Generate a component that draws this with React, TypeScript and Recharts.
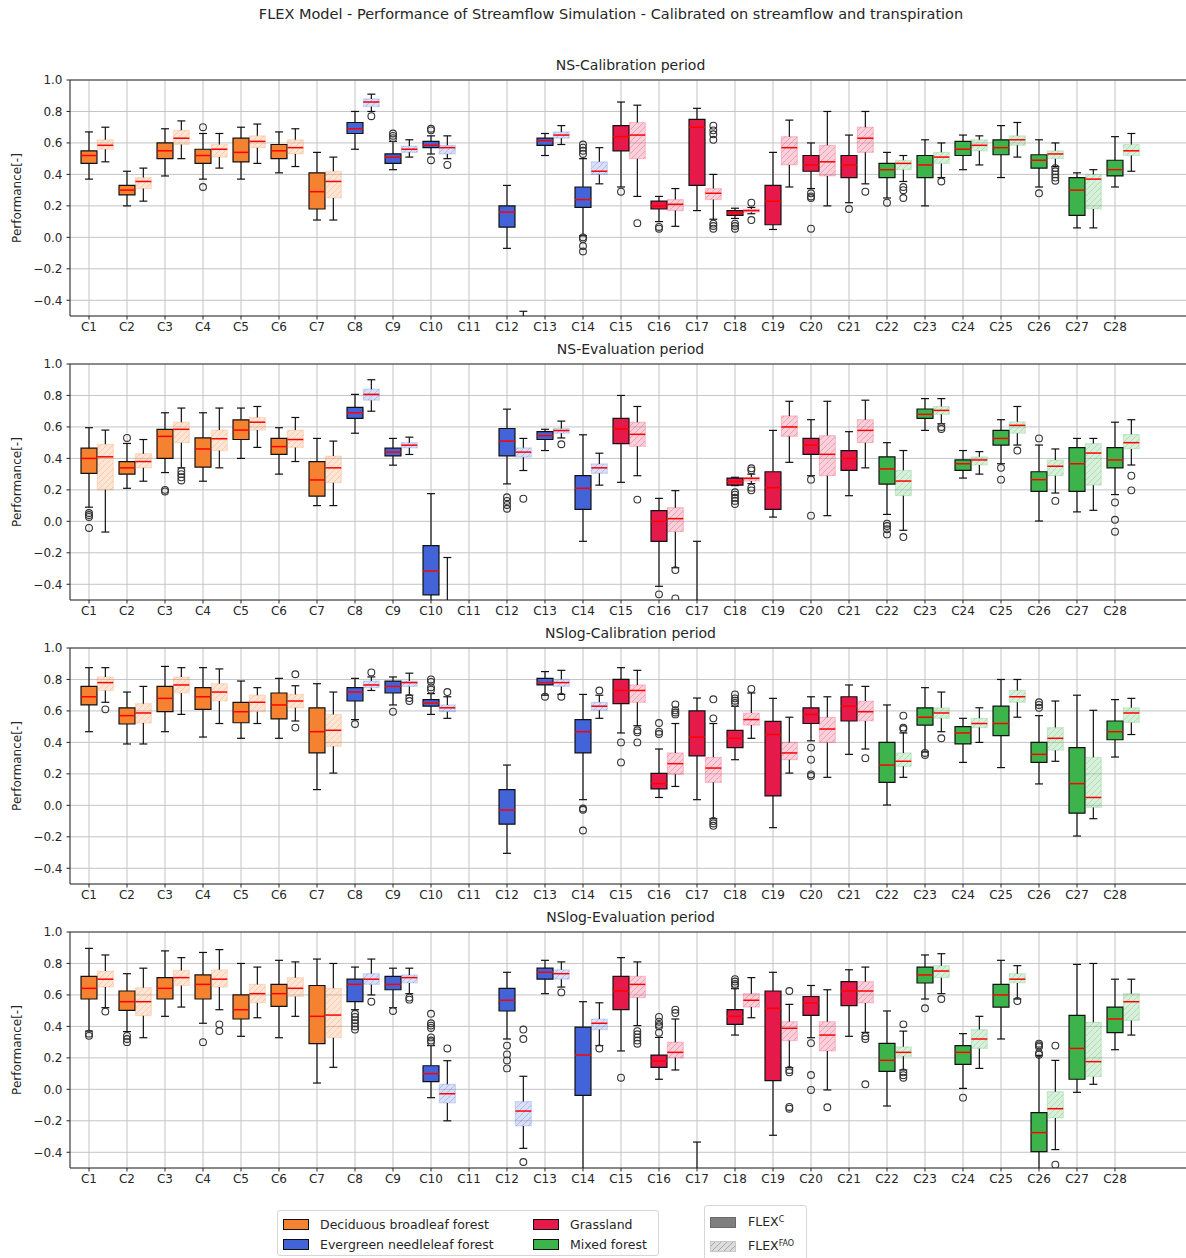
import React from 'react';
import { ComposedChart, XAxis, YAxis, CartesianGrid, Scatter, ReferenceArea, ReferenceLine } from 'recharts';

type Box = [number, number, number, number, number] | null; // whisker low, q1, median, q3, whisker high
type Flier = [number, number]; // category number, value

const categories = ['C1', 'C2', 'C3', 'C4', 'C5', 'C6', 'C7', 'C8', 'C9', 'C10', 'C11', 'C12', 'C13', 'C14',
  'C15', 'C16', 'C17', 'C18', 'C19', 'C20', 'C21', 'C22', 'C23', 'C24', 'C25', 'C26', 'C27', 'C28'];

// 0 deciduous broadleaf, 1 evergreen needleleaf, 2 grassland, 3 mixed forest
const coverOfCategory = [0, 0, 0, 0, 0, 0, 0, 1, 1, 1, 1, 1, 1, 1, 2, 2, 2, 2, 2, 2, 2, 3, 3, 3, 3, 3, 3, 3];
const coverNames = ['Deciduous broadleaf forest', 'Evergreen needleleaf forest', 'Grassland', 'Mixed forest'];
const coverColors = ['#f58231', '#4363d8', '#e6194b', '#3cb44b'];

const yTicks = [-0.4, -0.2, 0, 0.2, 0.4, 0.6, 0.8, 1.0];

// ---- NS, calibration period
const nsCalC: Box[] = [
  [0.37, 0.47, 0.52, 0.55, 0.67], [0.20, 0.27, 0.30, 0.33, 0.42], [0.39, 0.50, 0.55, 0.60, 0.69],
  [0.37, 0.47, 0.52, 0.56, 0.66], [0.37, 0.48, 0.54, 0.63, 0.70], [0.41, 0.50, 0.55, 0.59, 0.67],
  [0.11, 0.18, 0.29, 0.41, 0.54], [0.56, 0.66, 0.69, 0.73, 0.80], [0.43, 0.47, 0.51, 0.53, 0.61],
  [0.53, 0.57, 0.585, 0.61, 0.645], null, [-0.07, 0.065, 0.16, 0.20, 0.33],
  [0.52, 0.585, 0.615, 0.63, 0.66], [0.01, 0.19, 0.24, 0.32, 0.50], [0.32, 0.55, 0.64, 0.71, 0.86],
  [0.10, 0.18, 0.20, 0.23, 0.26], [0.17, 0.33, 0.70, 0.75, 0.82], [0.12, 0.14, 0.155, 0.17, 0.185],
  [0.05, 0.08, 0.23, 0.33, 0.54], [0.31, 0.42, 0.46, 0.52, 0.60], [0.22, 0.38, 0.46, 0.52, 0.65],
  [0.25, 0.38, 0.43, 0.47, 0.54], [0.20, 0.38, 0.46, 0.52, 0.62], [0.43, 0.52, 0.56, 0.61, 0.65],
  [0.38, 0.525, 0.57, 0.62, 0.71], [0.32, 0.44, 0.49, 0.525, 0.62], [0.06, 0.14, 0.30, 0.38, 0.41],
  [0.32, 0.39, 0.43, 0.49, 0.64],
];
const nsCalFao: Box[] = [
  [0.48, 0.56, 0.585, 0.62, 0.70], [0.23, 0.31, 0.355, 0.38, 0.44], [0.50, 0.59, 0.63, 0.68, 0.74],
  [0.44, 0.51, 0.56, 0.59, 0.66], [0.47, 0.57, 0.61, 0.645, 0.72], [0.45, 0.53, 0.57, 0.62, 0.69],
  [0.11, 0.25, 0.355, 0.42, 0.51], [0.80, 0.83, 0.86, 0.88, 0.91], [0.51, 0.54, 0.56, 0.58, 0.62],
  [0.50, 0.53, 0.57, 0.585, 0.645], null, [-0.95, -0.85, -0.75, -0.65, -0.47],
  [0.59, 0.63, 0.65, 0.67, 0.71], [0.34, 0.40, 0.42, 0.48, 0.57], [0.26, 0.50, 0.65, 0.73, 0.84],
  [0.07, 0.17, 0.21, 0.24, 0.31], [0.115, 0.24, 0.28, 0.31, 0.40], [0.15, 0.16, 0.17, 0.18, 0.19],
  [0.32, 0.46, 0.57, 0.64, 0.745], [0.20, 0.39, 0.48, 0.585, 0.80], [0.34, 0.54, 0.63, 0.70, 0.80],
  [0.355, 0.43, 0.47, 0.49, 0.52], [0.38, 0.47, 0.51, 0.54, 0.60], [0.46, 0.55, 0.585, 0.62, 0.645],
  [0.51, 0.585, 0.62, 0.645, 0.73], [0.45, 0.50, 0.53, 0.55, 0.60], [0.06, 0.18, 0.37, 0.40, 0.43],
  [0.42, 0.52, 0.55, 0.59, 0.66],
];
const nsCalFliersC: Flier[] = [
  [4, 0.70], [4, 0.32], [9, 0.66], [9, 0.645], [9, 0.63], [10, 0.69], [10, 0.68], [10, 0.49],
  [14, 0.53], [14, 0.55], [14, 0.57], [14, 0.59], [14, 0.0], [14, -0.01], [14, -0.055], [14, -0.09],
  [15, 0.29], [16, 0.066], [16, 0.055], [18, 0.087], [18, 0.072], [18, 0.055], [20, 0.28], [20, 0.26],
  [20, 0.25], [20, 0.055], [21, 0.18], [22, 0.22], [26, 0.28],
];
const nsCalFliersFao: Flier[] = [
  [8, 0.77], [10, 0.46], [15, 0.09], [17, 0.71], [17, 0.68], [17, 0.655], [17, 0.62], [17, 0.087],
  [17, 0.072], [17, 0.055], [18, 0.22], [18, 0.11], [21, 0.29], [22, 0.32], [22, 0.30], [22, 0.25],
  [23, 0.355], [26, 0.44], [26, 0.42], [26, 0.40], [26, 0.38], [26, 0.36],
];

// ---- NS, evaluation period
const nsEvalC: Box[] = [
  [0.09, 0.305, 0.40, 0.465, 0.595], [0.21, 0.30, 0.34, 0.38, 0.495], [0.31, 0.40, 0.54, 0.585, 0.69],
  [0.255, 0.345, 0.46, 0.53, 0.69], [0.40, 0.52, 0.58, 0.645, 0.72], [0.30, 0.425, 0.475, 0.527, 0.595],
  [0.10, 0.16, 0.263, 0.38, 0.527], [0.56, 0.654, 0.69, 0.724, 0.807], [0.357, 0.416, 0.44, 0.465, 0.527],
  [-0.75, -0.467, -0.316, -0.155, 0.176], null, [0.238, 0.416, 0.51, 0.59, 0.713],
  [0.45, 0.52, 0.545, 0.57, 0.585], [-0.127, 0.076, 0.21, 0.29, 0.55], [0.248, 0.494, 0.587, 0.655, 0.80],
  [-0.413, -0.127, 0.0, 0.068, 0.146], [-0.9, -0.8, -0.7, -0.6, -0.127], [0.227, 0.23, 0.254, 0.275, 0.28],
  [0.027, 0.076, 0.214, 0.315, 0.578], [0.29, 0.426, 0.485, 0.527, 0.646], [0.163, 0.324, 0.40, 0.45, 0.57],
  [0.044, 0.237, 0.333, 0.41, 0.50], [0.578, 0.655, 0.68, 0.714, 0.78], [0.275, 0.324, 0.366, 0.39, 0.45],
  [0.366, 0.485, 0.527, 0.578, 0.646], [0.002, 0.19, 0.265, 0.315, 0.485], [0.06, 0.19, 0.366, 0.468, 0.527],
  [0.17, 0.34, 0.39, 0.468, 0.63],
];
const nsEvalFao: Box[] = [
  [-0.068, 0.20, 0.41, 0.49, 0.58], [0.255, 0.34, 0.38, 0.43, 0.52], [0.34, 0.50, 0.585, 0.63, 0.72],
  [0.34, 0.45, 0.525, 0.58, 0.72], [0.47, 0.58, 0.63, 0.66, 0.73], [0.38, 0.47, 0.52, 0.58, 0.66],
  [0.10, 0.246, 0.34, 0.415, 0.51], [0.70, 0.77, 0.807, 0.84, 0.90], [0.425, 0.467, 0.484, 0.50, 0.535],
  [-0.95, -0.85, -0.75, -0.65, -0.23], null, [0.323, 0.408, 0.44, 0.467, 0.527],
  [0.53, 0.56, 0.577, 0.59, 0.637], [0.23, 0.305, 0.34, 0.365, 0.433], [0.29, 0.477, 0.553, 0.63, 0.73],
  [-0.295, -0.066, 0.017, 0.087, 0.195], null, [0.24, 0.256, 0.273, 0.28, 0.30],
  [0.375, 0.54, 0.60, 0.67, 0.763], [0.036, 0.29, 0.426, 0.545, 0.763], [0.34, 0.50, 0.578, 0.646, 0.77],
  [-0.057, 0.163, 0.256, 0.324, 0.45], [0.62, 0.68, 0.705, 0.73, 0.78], [0.30, 0.358, 0.39, 0.41, 0.443],
  [0.485, 0.56, 0.61, 0.633, 0.73], [0.18, 0.29, 0.35, 0.39, 0.46], [0.07, 0.23, 0.434, 0.494, 0.527],
  [0.358, 0.46, 0.50, 0.553, 0.646],
];
const nsEvalFliersC: Flier[] = [
  [1, 0.053], [1, 0.04], [1, 0.028], [1, -0.042], [2, 0.53], [3, 0.20], [3, 0.19], [12, 0.153],
  [12, 0.13], [12, 0.104], [12, 0.08], [16, -0.464], [18, 0.185], [18, 0.17], [18, 0.15], [18, 0.13],
  [18, 0.11], [20, 0.265], [20, 0.036], [22, -0.015], [22, -0.03], [22, -0.05], [22, -0.083],
  [25, 0.34], [25, 0.265], [26, 0.527], [28, 0.12], [28, 0.01], [28, -0.066],
];
const nsEvalFliersFao: Flier[] = [
  [3, 0.32], [3, 0.30], [3, 0.28], [3, 0.26], [12, 0.144], [13, 0.49], [15, 0.138], [16, -0.31],
  [16, -0.49], [18, 0.337], [18, 0.324], [18, 0.214], [18, 0.197], [22, -0.10], [23, 0.60], [23, 0.587],
  [25, 0.45], [26, 0.13], [28, 0.29], [28, 0.197],
];

// ---- NSlog, calibration period
const nslogCalC: Box[] = [
  [0.468, 0.638, 0.69, 0.756, 0.875], [0.39, 0.517, 0.57, 0.62, 0.72], [0.468, 0.595, 0.68, 0.756, 0.883],
  [0.434, 0.61, 0.69, 0.748, 0.875], [0.426, 0.525, 0.595, 0.655, 0.79], [0.426, 0.55, 0.638, 0.714, 0.807],
  [0.10, 0.333, 0.468, 0.62, 0.773], [0.545, 0.663, 0.72, 0.748, 0.807], [0.638, 0.714, 0.756, 0.79, 0.816],
  [0.578, 0.63, 0.65, 0.672, 0.71], null, [-0.305, -0.12, -0.03, 0.10, 0.256],
  [0.70, 0.765, 0.78, 0.807, 0.85], [0.036, 0.333, 0.468, 0.545, 0.705], [0.46, 0.646, 0.73, 0.80, 0.875],
  [0.05, 0.104, 0.138, 0.203, 0.358], [0.036, 0.314, 0.434, 0.60, 0.682], [0.29, 0.367, 0.426, 0.477, 0.63],
  [-0.142, 0.06, 0.45, 0.534, 0.68], [0.41, 0.52, 0.578, 0.62, 0.69], [0.324, 0.536, 0.63, 0.69, 0.765],
  [0.002, 0.146, 0.256, 0.40, 0.638], [0.34, 0.51, 0.56, 0.62, 0.748], [0.273, 0.39, 0.46, 0.50, 0.553],
  [0.24, 0.443, 0.52, 0.63, 0.80], [0.136, 0.273, 0.324, 0.40, 0.57], [-0.195, -0.05, 0.138, 0.367, 0.70],
  [0.307, 0.417, 0.468, 0.536, 0.672],
];
const nslogCalFao: Box[] = [
  [0.655, 0.73, 0.78, 0.816, 0.875], [0.39, 0.523, 0.587, 0.646, 0.756], [0.578, 0.714, 0.765, 0.816, 0.875],
  [0.52, 0.663, 0.72, 0.773, 0.867], [0.52, 0.595, 0.655, 0.70, 0.748], [0.536, 0.62, 0.663, 0.705, 0.76],
  [0.205, 0.375, 0.477, 0.578, 0.72], [0.73, 0.748, 0.765, 0.79, 0.816], [0.70, 0.756, 0.78, 0.79, 0.84],
  [0.553, 0.595, 0.62, 0.638, 0.69], null, null,
  [0.705, 0.756, 0.78, 0.80, 0.858], [0.553, 0.604, 0.63, 0.655, 0.70], [0.506, 0.655, 0.73, 0.765, 0.858],
  [0.12, 0.197, 0.265, 0.333, 0.52], [-0.085, 0.146, 0.237, 0.305, 0.52], [0.426, 0.51, 0.545, 0.587, 0.714],
  [0.205, 0.29, 0.333, 0.40, 0.56], [0.178, 0.40, 0.485, 0.56, 0.69], [0.358, 0.536, 0.595, 0.663, 0.756],
  [0.178, 0.248, 0.28, 0.333, 0.46], [0.468, 0.553, 0.587, 0.62, 0.72], [0.40, 0.494, 0.52, 0.553, 0.62],
  [0.56, 0.655, 0.69, 0.73, 0.80], [0.28, 0.35, 0.426, 0.494, 0.663], [-0.085, -0.013, 0.05, 0.305, 0.604],
  [0.45, 0.527, 0.587, 0.62, 0.68],
];
const nslogCalFliersC: Flier[] = [
  [8, 0.517], [9, 0.595], [10, 0.80], [10, 0.785], [10, 0.75], [10, 0.735], [13, 0.69], [14, -0.02],
  [14, -0.028], [14, -0.16], [15, 0.40], [15, 0.273], [16, 0.523], [16, 0.468], [16, 0.453], [18, 0.705],
  [18, 0.68], [18, 0.665], [18, 0.65], [20, 0.367], [20, 0.29], [20, 0.197], [20, 0.186], [23, 0.333],
  [23, 0.32], [26, 0.655], [26, 0.638], [26, 0.62],
];
const nslogCalFliersFao: Flier[] = [
  [1, 0.61], [6, 0.833], [6, 0.494], [8, 0.845], [9, 0.682], [9, 0.663], [10, 0.72], [13, 0.69],
  [14, 0.73], [15, 0.477], [15, 0.464], [15, 0.40], [16, 0.642], [16, 0.604], [16, 0.59], [16, 0.578],
  [17, 0.674], [17, 0.553], [17, -0.10], [17, -0.115], [17, -0.13], [18, 0.74], [21, 0.30], [22, 0.57],
  [22, 0.494], [22, 0.485], [23, 0.426],
];

// ---- NSlog, evaluation period
const nslogEvalC: Box[] = [
  [0.37, 0.574, 0.642, 0.718, 0.896], [0.367, 0.502, 0.557, 0.625, 0.735], [0.464, 0.574, 0.642, 0.71, 0.88],
  [0.42, 0.574, 0.667, 0.727, 0.87], [0.337, 0.447, 0.506, 0.60, 0.80], [0.328, 0.527, 0.608, 0.667, 0.82],
  [0.04, 0.29, 0.464, 0.66, 0.828], [0.506, 0.557, 0.667, 0.70, 0.777], [0.519, 0.633, 0.667, 0.718, 0.77],
  [-0.053, 0.049, 0.10, 0.15, 0.278], null, [0.32, 0.498, 0.566, 0.642, 0.744],
  [0.608, 0.70, 0.744, 0.77, 0.82], [-0.7, -0.038, 0.218, 0.396, 0.557], [0.244, 0.506, 0.625, 0.718, 0.837],
  [0.064, 0.14, 0.18, 0.218, 0.33], [-0.95, -0.85, -0.75, -0.6, -0.335], [0.345, 0.413, 0.464, 0.506, 0.64],
  [-0.292, 0.055, 0.515, 0.625, 0.744], [0.328, 0.47, 0.549, 0.59, 0.66], [0.337, 0.532, 0.625, 0.684, 0.76],
  [-0.106, 0.114, 0.184, 0.292, 0.498], [0.574, 0.676, 0.727, 0.777, 0.854], [0.006, 0.159, 0.235, 0.278, 0.354],
  [0.32, 0.523, 0.60, 0.667, 0.82], [-0.75, -0.396, -0.275, -0.148, 0.216], [-0.019, 0.064, 0.26, 0.47, 0.794],
  [0.252, 0.36, 0.447, 0.523, 0.70],
];
const nslogEvalFao: Box[] = [
  [0.519, 0.65, 0.70, 0.752, 0.854], [0.328, 0.468, 0.557, 0.646, 0.77], [0.523, 0.66, 0.71, 0.756, 0.837],
  [0.506, 0.65, 0.70, 0.76, 0.888], [0.455, 0.55, 0.608, 0.667, 0.777], [0.464, 0.59, 0.642, 0.71, 0.81],
  [0.14, 0.328, 0.472, 0.642, 0.80], [0.60, 0.667, 0.70, 0.735, 0.828], [0.608, 0.676, 0.71, 0.727, 0.77],
  [-0.20, -0.087, -0.028, 0.032, 0.182], null, [-0.375, -0.233, -0.138, -0.078, 0.083],
  [0.65, 0.70, 0.735, 0.76, 0.81], [0.278, 0.38, 0.42, 0.447, 0.55], [0.405, 0.583, 0.667, 0.718, 0.81],
  [0.123, 0.20, 0.235, 0.30, 0.447], null, [0.455, 0.523, 0.566, 0.608, 0.71],
  [0.138, 0.31, 0.388, 0.43, 0.54], [-0.004, 0.244, 0.345, 0.43, 0.633], [0.362, 0.549, 0.625, 0.684, 0.777],
  [0.123, 0.21, 0.235, 0.27, 0.37], [0.608, 0.71, 0.752, 0.786, 0.862], [0.133, 0.26, 0.32, 0.38, 0.464],
  [0.574, 0.676, 0.70, 0.735, 0.786], [-0.383, -0.182, -0.123, -0.015, 0.184], [0.032, 0.08, 0.176, 0.426, 0.80],
  [0.345, 0.438, 0.557, 0.608, 0.70],
];
const nslogEvalFliersC: Flier[] = [
  [1, 0.354], [1, 0.34], [2, 0.34], [2, 0.32], [2, 0.30], [4, 0.30], [8, 0.48], [8, 0.46], [8, 0.44],
  [8, 0.42], [8, 0.40], [8, 0.38], [9, 0.498], [10, 0.48], [10, 0.42], [10, 0.405], [10, 0.39],
  [10, 0.33], [10, 0.31], [10, 0.30], [12, 0.278], [12, 0.222], [12, 0.184], [12, 0.133], [15, 0.074],
  [16, 0.46], [16, 0.43], [16, 0.41], [16, 0.40], [16, 0.36], [18, 0.70], [18, 0.685], [18, 0.67],
  [18, 0.66], [20, 0.294], [20, 0.091], [20, -0.004], [23, 0.515], [24, -0.053], [26, 0.29], [26, 0.28],
  [26, 0.27], [26, 0.23], [26, 0.22],
];
const nslogEvalFliersFao: Flier[] = [
  [1, 0.494], [4, 0.413], [4, 0.37], [8, 0.557], [9, 0.583], [9, 0.57], [10, 0.26], [12, 0.38],
  [12, 0.32], [12, -0.462], [13, 0.616], [14, 0.26], [15, 0.37], [15, 0.35], [15, 0.33], [15, 0.31],
  [15, 0.29], [16, 0.506], [16, 0.485], [19, 0.625], [19, 0.123], [19, 0.108], [19, -0.112], [19, -0.123],
  [20, -0.114], [21, 0.337], [21, 0.32], [21, 0.032], [22, 0.413], [22, 0.108], [22, 0.09], [22, 0.074],
  [23, 0.574], [25, 0.561], [26, 0.278], [26, -0.479],
];

const panels = [
  { title: 'NS-Calibration period', top: 80, c: nsCalC, fao: nsCalFao, fc: nsCalFliersC, ff: nsCalFliersFao },
  { title: 'NS-Evaluation period', top: 363.5, c: nsEvalC, fao: nsEvalFao, fc: nsEvalFliersC, ff: nsEvalFliersFao },
  { title: 'NSlog-Calibration period', top: 647.5, c: nslogCalC, fao: nslogCalFao, fc: nslogCalFliersC, ff: nslogCalFliersFao },
  { title: 'NSlog-Evaluation period', top: 931.5, c: nslogEvalC, fao: nslogEvalFao, fc: nslogEvalFliersC, ff: nslogEvalFliersFao },
];

const FAO_SHIFT = 0.43; // FLEX-FAO box sits to the right of the category tick
const BOX_HW = 0.21;
const CAP_HW = 0.105;
const PLOT_H = 236;
const MARGIN_TOP = 10;
const XAXIS_H = 26;
const CHART_W = 1200;
const FONT = '"DejaVu Sans", sans-serif';
const INK = '#262626';

const fmtY = (v: number) => (v < -1e-9 ? '\u2212' : '') + Math.abs(v).toFixed(1);

function boxParts(b: Box, x: number, cover: number, hatched: boolean, key: string) {
  if (!b) return [];
  const [lo, q1, med, q3, hi] = b;
  const color = coverColors[cover];
  const line = { stroke: '#111', strokeWidth: 1.2, ifOverflow: 'hidden' as const };
  return [
    <ReferenceLine key={key + 'wl'} segment={[{ x, y: lo }, { x, y: q1 }]} {...line} />,
    <ReferenceLine key={key + 'wh'} segment={[{ x, y: q3 }, { x, y: hi }]} {...line} />,
    <ReferenceLine key={key + 'cl'} segment={[{ x: x - CAP_HW, y: lo }, { x: x + CAP_HW, y: lo }]} {...line} />,
    <ReferenceLine key={key + 'ch'} segment={[{ x: x - CAP_HW, y: hi }, { x: x + CAP_HW, y: hi }]} {...line} />,
    <ReferenceArea
      key={key + 'b'}
      x1={x - BOX_HW}
      x2={x + BOX_HW}
      y1={q1}
      y2={q3}
      fill={hatched ? `url(#hatch-${cover})` : color}
      fillOpacity={1}
      stroke={hatched ? color : '#111'}
      strokeOpacity={hatched ? 0.2 : 1}
      strokeWidth={1.2}
      ifOverflow="hidden"
    />,
    <ReferenceLine
      key={key + 'm'}
      segment={[{ x: x - BOX_HW, y: med }, { x: x + BOX_HW, y: med }]}
      stroke="#ff0000"
      strokeWidth={1.5}
      ifOverflow="hidden"
    />,
  ];
}

const FlierMark = (p: any) => (
  <circle cx={p.cx} cy={p.cy} r={3.4} fill="none" stroke="#333" strokeWidth={1.1} />
);

function Panel({ spec }: { spec: (typeof panels)[number] }) {
  const parts: React.ReactElement[] = [];
  spec.c.forEach((b, i) => parts.push(...boxParts(b, i + 1, coverOfCategory[i], false, `c${i}`)));
  spec.fao.forEach((b, i) => parts.push(...boxParts(b, i + 1 + FAO_SHIFT, coverOfCategory[i], true, `f${i}`)));
  const fliers = [
    ...spec.fc.map(([c, v]) => ({ x: c, y: v })),
    ...spec.ff.map(([c, v]) => ({ x: c + FAO_SHIFT, y: v })),
  ];
  const catTicks = categories.map((_, i) => i + 1);

  return (
    <>
      <div
        style={{
          position: 'absolute', left: 70, width: 1121, top: spec.top - 23, textAlign: 'center',
          fontSize: 14, color: INK, lineHeight: '17px',
        }}
      >
        {spec.title}
      </div>
      <div
        style={{
          position: 'absolute', left: 17, top: spec.top + PLOT_H / 2, transform: 'translate(-50%, -50%) rotate(-90deg)',
          fontSize: 12, color: INK, whiteSpace: 'nowrap',
        }}
      >
        Performance[-]
      </div>
      <div style={{ position: 'absolute', left: 0, top: spec.top - MARGIN_TOP }}>
        <ComposedChart
          width={CHART_W}
          height={PLOT_H + MARGIN_TOP + XAXIS_H}
          margin={{ top: MARGIN_TOP, right: 9, bottom: 0, left: 10 }}
        >
          <CartesianGrid stroke="#c4c4c4" strokeWidth={1} />
          <XAxis
            type="number"
            dataKey="x"
            domain={[0.5, 30]}
            ticks={catTicks}
            interval={0}
            allowDataOverflow
            tickFormatter={(v: number) => categories[v - 1]}
            axisLine={false}
            tickLine={{ stroke: INK }}
            tickSize={3.5}
            tickMargin={3}
            height={XAXIS_H}
            tick={{ fontSize: 12, fill: INK }}
          />
          <YAxis
            type="number"
            dataKey="y"
            domain={[-0.5, 1.0]}
            ticks={yTicks}
            interval={0}
            allowDataOverflow
            tickFormatter={fmtY}
            axisLine={false}
            tickLine={{ stroke: INK }}
            tickSize={3.5}
            tickMargin={4}
            width={60}
            tick={{ fontSize: 12, fill: INK }}
          />
          {parts}
          <Scatter data={fliers} shape={FlierMark} isAnimationActive={false} />
          <ReferenceArea x1={0.5} x2={30} y1={-0.5} y2={1.0} fill="none" stroke="#333" strokeWidth={1} ifOverflow="visible" />
        </ComposedChart>
      </div>
    </>
  );
}

function Patch({ fill, hatched }: { fill: string; hatched?: boolean }) {
  return (
    <svg width={26} height={11} style={{ position: 'absolute', left: 0, top: 0 }}>
      <rect x={0.5} y={0.5} width={25} height={10} fill={hatched ? 'url(#hatch-grey)' : fill}
        stroke={hatched ? '#c8c8c8' : fill === '#7f7f7f' ? '#6a6a6a' : '#111'} strokeWidth={1} />
    </svg>
  );
}

export default function App() {
  return (
    <div
      style={{
        position: 'absolute', left: 0, top: 0, width: 1186, height: 1258, overflow: 'hidden',
        background: '#fff', fontFamily: FONT, color: INK,
      }}
    >
      <svg width={0} height={0} style={{ position: 'absolute' }}>
        <defs>
          {coverColors.map((c, i) => (
            <pattern key={i} id={`hatch-${i}`} width={6} height={6} patternUnits="userSpaceOnUse">
              <rect width={6} height={6} fill={c} fillOpacity={0.2} />
              <path d="M-1,1 l2,-2 M0,6 l6,-6 M5,7 l2,-2" stroke={c} strokeOpacity={0.28} strokeWidth={1} />
            </pattern>
          ))}
          <pattern id="hatch-grey" width={6} height={6} patternUnits="userSpaceOnUse">
            <rect width={6} height={6} fill="#dcdcdc" />
            <path d="M-1,1 l2,-2 M0,6 l6,-6 M5,7 l2,-2" stroke="#a8a8a8" strokeWidth={1} />
          </pattern>
        </defs>
      </svg>

      <div style={{ position: 'absolute', left: 0, width: 1222, top: 5, textAlign: 'center', fontSize: 14.5, lineHeight: '18px' }}>
        FLEX Model - Performance of Streamflow Simulation - Calibrated on streamflow and transpiration
      </div>

      {panels.map((p) => (
        <Panel key={p.title} spec={p} />
      ))}

      {/* land cover legend */}
      <div
        style={{
          position: 'absolute', left: 277, top: 1210, width: 380, height: 44, border: '1px solid #d6d6d6',
          borderRadius: 3, fontSize: 12.5,
        }}
      >
        {coverNames.map((name, i) => (
          <div
            key={name}
            style={{ position: 'absolute', left: i < 2 ? 5 : 255, top: i % 2 === 0 ? 6 : 26, height: 14, width: 240 }}
          >
            <div style={{ position: 'absolute', left: 0, top: 2 }}>
              <Patch fill={coverColors[i]} />
            </div>
            <span style={{ position: 'absolute', left: 37, top: 0, lineHeight: '15px', whiteSpace: 'nowrap' }}>{name}</span>
          </div>
        ))}
      </div>

      {/* model legend */}
      <div
        style={{
          position: 'absolute', left: 704, top: 1205, width: 101, height: 60, border: '1px solid #d6d6d6',
          borderRadius: 3, fontSize: 12.5,
        }}
      >
        <div style={{ position: 'absolute', left: 5, top: 11 }}>
          <Patch fill="#7f7f7f" />
        </div>
        <span style={{ position: 'absolute', left: 43, top: 8, lineHeight: '15px', whiteSpace: 'nowrap' }}>
          FLEX<sup style={{ fontSize: 8, verticalAlign: 'top', position: 'relative', top: -2 }}>C</sup>
        </span>
        <div style={{ position: 'absolute', left: 5, top: 35 }}>
          <Patch fill="#dcdcdc" hatched />
        </div>
        <span style={{ position: 'absolute', left: 43, top: 32, lineHeight: '15px', whiteSpace: 'nowrap' }}>
          FLEX<sup style={{ fontSize: 8, verticalAlign: 'top', position: 'relative', top: -2 }}>FAO</sup>
        </span>
      </div>
    </div>
  );
}
